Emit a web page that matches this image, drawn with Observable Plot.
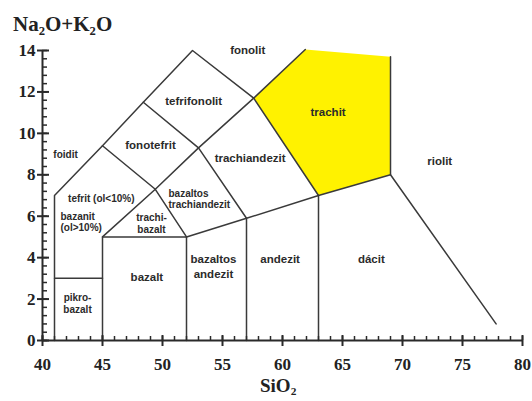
<!DOCTYPE html>
<html><head><meta charset="utf-8">
<script src="https://cdn.jsdelivr.net/npm/d3@7"></script>
<script src="https://cdn.jsdelivr.net/npm/@observablehq/plot@0.6"></script>
<style>
body{margin:0;background:#fff}
#wrap{position:relative;width:532px;height:401px;background:#fff}
.ttl{position:absolute;font-family:"Liberation Serif","Times New Roman",serif;font-weight:bold;color:#222;white-space:nowrap;line-height:1}
.ttl sub{font-size:0.6em;vertical-align:-0.3em;line-height:0}
</style></head><body>
<div id="wrap">
<div class="ttl" style="left:13px;top:14px;font-size:21px">Na<sub>2</sub>O+K<sub>2</sub>O</div>
<div class="ttl" style="left:260px;top:376px;font-size:19px">SiO<sub>2</sub></div>
</div>
<script>
// axis ticks
const xTicks = [40, 45, 50, 55, 60, 65, 70, 75, 80];
const yTicks = [0, 2, 4, 6, 8, 10, 12, 14];
const xMinor = d3.range(40, 80.01, 1);
const yMinor = d3.range(0, 14.01, 0.4);

// field boundaries (SiO2, Na2O+K2O)
const outerBoundary = [[41,0],[41,7],[45,9.4],[48.4,11.5],[52.5,14],[57.6,11.7],[63,7],[69,8],[77.8,0.8]];
const picroTop = [[41,3],[45,3]];
const basaltBox = [[45,0],[45,5],[52,5],[52,0]];
const tephriteRidge = [[45,5],[49.4,7.3],[53,9.3],[57.6,11.7]];
const trachybasaltRidge = [[45,9.4],[49.4,7.3],[52,5]];
const phonotephriteRidge = [[48.4,11.5],[53,9.3],[57,5.9],[57,0]];
const andesiteTop = [[52,5],[57,5.9],[63,7],[63,0]];
const trachyteLeft = [[57.6,11.7],[61.9,14.05]];
const trachyteRight = [[69,13.7],[69,8]];
const trachyteArea = [[57.6,11.7],[61.9,14.05],[69,13.7],[69,8],[63,7]];

// region labels
const bigNames = ["fonolit","tefrifonolit","fonotefrit","trachiandezit","trachit","riolit","dácit","andezit","bazaltos\nandezit","bazalt"];
const bigX = [57.1, 52.6, 49.0, 57.3, 63.8, 73.1, 67.4, 59.8, 54.25, 48.7];
const bigY = [14.05, 11.59, 9.46, 8.84, 11.06, 8.69, 3.96, 3.96, 3.6, 3.09];
const smallNames = ["foidit","tefrit (ol<10%)","trachi-\nbazalt","pikro-\nbazalt"];
const smallX = [41.92, 44.9, 49.08, 42.92];
const smallY = [8.98, 6.86, 5.65, 1.81];
const leftNames = ["bazanit\n(ol>10%)","bazaltos\ntrachiandezit"];
const leftX = [41.5, 50.5];
const leftY = [5.72, 6.83];

const lab = (names, xs, ys) => names.map((t, i) => ({t, x: xs[i], y: ys[i]}));
const pt = {x: d => d[0], y: d => d[1]};
const lineStyle = {stroke: "#3a3a3a", strokeWidth: 1.5};
const sans = "'Liberation Sans', Arial, sans-serif";
const serif = "'Liberation Serif', 'Times New Roman', serif";

const chart = Plot.plot({
  width: 532, height: 401,
  marginLeft: 42, marginRight: 10, marginTop: 50, marginBottom: 61,
  x: {domain: [40, 80]},
  y: {domain: [0, 14]},
  style: {background: "transparent", overflow: "visible"},
  marks: [
    Plot.line(trachyteArea, {...pt, fill: "#fff200", stroke: "none"}),
    ...[outerBoundary, picroTop, basaltBox, tephriteRidge, trachybasaltRidge,
        phonotephriteRidge, andesiteTop, trachyteLeft, trachyteRight]
      .map(seg => Plot.line(seg, {...pt, ...lineStyle})),
    // axis lines
    Plot.ruleY([0], {x1: 40, x2: 80, stroke: "#2a2a2a", strokeWidth: 2}),
    Plot.ruleX([40], {y1: 0, y2: 14, stroke: "#2a2a2a", strokeWidth: 2}),
    // minor ticks
    Plot.ruleX(xMinor, {x: d => d, y1: () => 0, y2: () => 0, insetTop: -4, insetBottom: 0, stroke: "#2a2a2a", strokeWidth: 1.5}),
    Plot.ruleY(yMinor, {y: d => d, x1: () => 40, x2: () => 40, insetLeft: 0, insetRight: -5, stroke: "#2a2a2a", strokeWidth: 1.5}),
    // major ticks
    Plot.ruleX(xTicks, {x: d => d, y1: () => 0, y2: () => 0, insetTop: -5, insetBottom: -6, stroke: "#2a2a2a", strokeWidth: 2}),
    Plot.ruleY(yTicks, {y: d => d, x1: () => 40, x2: () => 40, insetLeft: -5, insetRight: -7, stroke: "#2a2a2a", strokeWidth: 2}),
    Plot.axisX(xTicks, {tickSize: 0, tickPadding: 17, label: null, fontSize: 17, fontWeight: "bold", fontFamily: serif, fill: "#222"}),
    Plot.axisY(yTicks, {tickSize: 0, tickPadding: 7, label: null, fontSize: 17, fontWeight: "bold", fontFamily: serif, fill: "#222"}),
    // labels
    Plot.text(lab(bigNames, bigX, bigY), {x: "x", y: "y", text: "t", fontSize: 11.5, fontWeight: "bold", fontFamily: sans, fill: "#2b2b2b", lineHeight: 1.3}),
    Plot.text(lab(smallNames, smallX, smallY), {x: "x", y: "y", text: "t", fontSize: 10, fontWeight: "bold", fontFamily: sans, fill: "#2b2b2b", lineHeight: 1.2}),
    Plot.text(lab(leftNames, leftX, leftY), {x: "x", y: "y", text: "t", textAnchor: "start", fontSize: 10, fontWeight: "bold", fontFamily: sans, fill: "#2b2b2b", lineHeight: 1.15})
  ]
});
chart.style.position = "absolute";
chart.style.left = "0";
chart.style.top = "0";
document.getElementById("wrap").prepend(chart);
</script>
</body></html>
